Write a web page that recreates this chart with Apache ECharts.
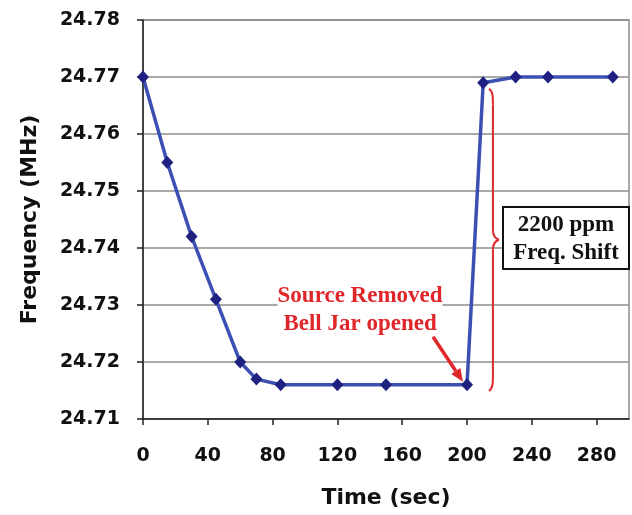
<!DOCTYPE html>
<html>
<head>
<meta charset="utf-8">
<script src="https://cdn.jsdelivr.net/npm/echarts@6/dist/echarts.min.js"></script>
<style>
  html, body { margin: 0; padding: 0; background: #fff; }
  #chart { width: 632px; height: 515px; }
</style>
</head>
<body>
<div id="chart"></div>
<script>
// Resonator frequency vs. elapsed time
const timeSec = [0, 15, 30, 45, 60, 70, 85, 120, 150, 200, 210, 230, 250, 290];
const freqMHz = [24.770, 24.755, 24.742, 24.731, 24.720, 24.717, 24.716, 24.716, 24.716, 24.716, 24.769, 24.770, 24.770, 24.770];
const xTicks = [0, 40, 80, 120, 160, 200, 240, 280];
const yTicks = [24.71, 24.72, 24.73, 24.74, 24.75, 24.76, 24.77, 24.78];
const noteEvent = ['Source Removed', 'Bell Jar opened'];
const noteShift = ['2200 ppm', 'Freq. Shift'];

const sansBold = { fontFamily: 'DejaVu Sans', fontWeight: 'bold', color: '#111' };
const serif = '"Liberation Serif", "Times New Roman", serif';
const red = '#e0262b';

const chart = echarts.init(document.getElementById('chart'), null, { renderer: 'canvas' });

chart.setOption({
  animation: false,
  backgroundColor: '#fff',
  grid: {
    left: 143, right: 3, top: 20, bottom: 96,
    show: true, borderColor: '#8c8c8c', borderWidth: 1.5, backgroundColor: '#fff'
  },
  xAxis: {
    type: 'value',
    min: 0, max: 300, interval: 40,
    name: 'Time (sec)',
    nameLocation: 'middle',
    nameGap: 68,
    nameTextStyle: Object.assign({ fontSize: 22 }, sansBold),
    axisLine: { show: true, onZero: false, lineStyle: { color: '#222', width: 1.5 } },
    axisTick: { show: true, length: 6, customValues: xTicks, lineStyle: { color: '#222', width: 1.5 } },
    axisLabel: Object.assign({ fontSize: 19, margin: 28, customValues: xTicks }, sansBold),
    splitLine: { show: false }
  },
  yAxis: {
    type: 'value',
    min: 24.71, max: 24.78, interval: 0.01,
    name: 'Frequency (MHz)',
    nameLocation: 'middle',
    nameGap: 102,
    nameRotate: 90,
    nameTextStyle: Object.assign({ fontSize: 22 }, sansBold),
    axisLine: { show: true, lineStyle: { color: '#222', width: 1.5 } },
    axisTick: { show: true, length: 6, customValues: yTicks, lineStyle: { color: '#222', width: 1.5 } },
    axisLabel: Object.assign({
      fontSize: 19, margin: 23, customValues: yTicks,
      formatter: v => v.toFixed(2)
    }, sansBold),
    splitLine: { show: true, lineStyle: { color: '#8c8c8c', width: 1.5 } }
  },
  series: [{
    type: 'line',
    data: timeSec.map((t, i) => [t, freqMHz[i]]),
    smooth: false,
    symbol: 'diamond',
    symbolSize: [12, 13],
    itemStyle: { color: '#1f2180' },
    lineStyle: { color: '#3c50b4', width: 3.5 },
    z: 3
  }]
});

// Annotations placed from data coordinates
const px = (x, y) => chart.convertToPixel({ gridIndex: 0 }, [x, y]);

// arrow pointing at the moment the source was removed
const eventPt = px(200, 24.716);
const tip = [eventPt[0] - 4, eventPt[1] - 3];
const tail = [tip[0] - 30, tip[1] - 45];
const dx = tip[0] - tail[0], dy = tip[1] - tail[1];
const len = Math.hypot(dx, dy);
const ux = dx / len, uy = dy / len;
const headLen = 13, headHalf = 5.5;
const base = [tip[0] - ux * headLen, tip[1] - uy * headLen];

// curly brace spanning the frequency jump
const braceTop = px(216, 24.7688)[1] + 5;
const braceBot = px(216, 24.716)[1] + 6;
const bx = px(216, 24.716)[0];
const mid = (braceTop + braceBot) / 2;
const braceStyle = { stroke: red, lineWidth: 2, fill: null };
const braceParts = [
  { type: 'bezierCurve', shape: { x1: bx - 4, y1: braceTop, cpx1: bx, cpy1: braceTop + 2, cpx2: bx, cpy2: braceTop + 8, x2: bx, y2: braceTop + 16 } },
  { type: 'line', shape: { x1: bx, y1: braceTop + 16, x2: bx, y2: mid - 10 } },
  { type: 'bezierCurve', shape: { x1: bx, y1: mid - 10, cpx1: bx, cpy1: mid - 3, cpx2: bx + 3, cpy2: mid - 1, x2: bx + 6, y2: mid } },
  { type: 'bezierCurve', shape: { x1: bx + 6, y1: mid, cpx1: bx + 3, cpy1: mid + 1, cpx2: bx, cpy2: mid + 3, x2: bx, y2: mid + 10 } },
  { type: 'line', shape: { x1: bx, y1: mid + 10, x2: bx, y2: braceBot - 16 } },
  { type: 'bezierCurve', shape: { x1: bx, y1: braceBot - 16, cpx1: bx, cpy1: braceBot - 8, cpx2: bx, cpy2: braceBot - 2, x2: bx - 4, y2: braceBot } }
].map(p => Object.assign(p, { z: 10, style: braceStyle }));

const eventAnchor = px(134, 24.734);
const rightEdge = px(300, 24.78)[0];
const boxTop = px(0, 24.7472)[1];
const boxH = 62, boxW = 126;

chart.setOption({
  graphic: [
    {
      type: 'text', z: 10,
      style: {
        text: noteEvent.join('\n'),
        x: eventAnchor[0], y: eventAnchor[1],
        align: 'center', verticalAlign: 'top',
        font: 'bold 23px ' + serif,
        lineHeight: 28,
        fill: red,
        backgroundColor: '#fff'
      }
    },
    {
      type: 'line', z: 10,
      shape: { x1: tail[0], y1: tail[1], x2: base[0], y2: base[1] },
      style: { stroke: red, lineWidth: 3.5 }
    },
    {
      type: 'polygon', z: 10,
      shape: {
        points: [
          tip,
          [base[0] - uy * headHalf, base[1] + ux * headHalf],
          [base[0] + uy * headHalf, base[1] - ux * headHalf]
        ]
      },
      style: { fill: red }
    },
    ...braceParts,
    {
      type: 'rect', z: 10,
      shape: { x: rightEdge - boxW, y: boxTop, width: boxW, height: boxH },
      style: { fill: '#fff', stroke: '#111', lineWidth: 2 }
    },
    {
      type: 'text', z: 11,
      style: {
        text: noteShift.join('\n'),
        x: rightEdge - boxW / 2, y: boxTop + boxH / 2 + 1,
        align: 'center', verticalAlign: 'middle',
        font: 'bold 23px ' + serif,
        lineHeight: 28,
        fill: '#111'
      }
    }
  ]
});
</script>
</body>
</html>
